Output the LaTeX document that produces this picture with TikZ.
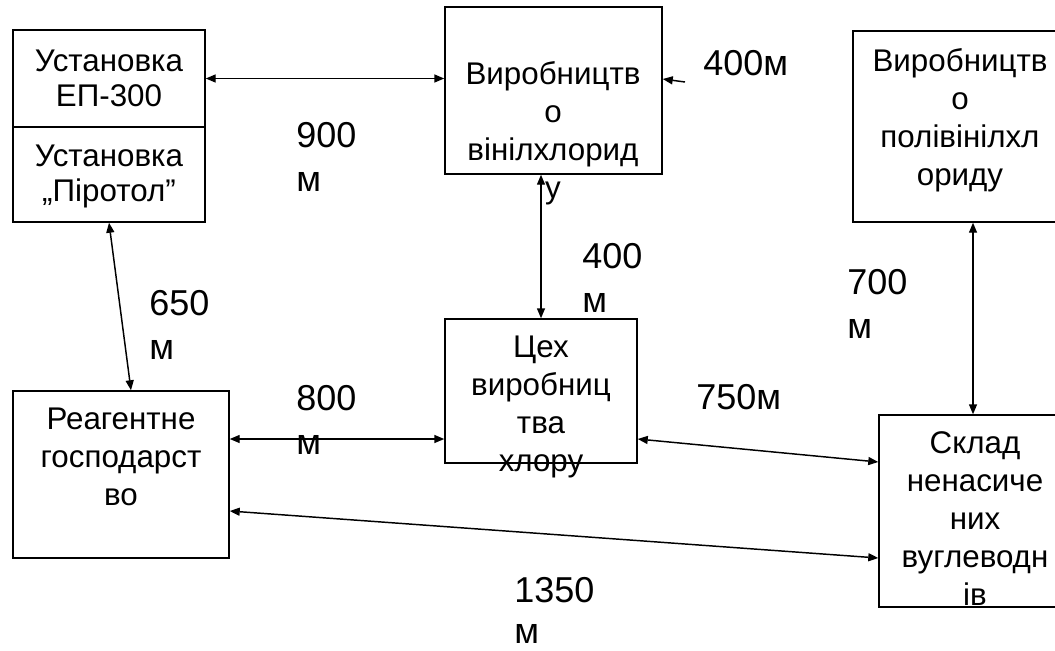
\documentclass[tikz,border=0pt]{standalone}
\usepackage{fontspec}
\setmainfont{Liberation Sans}
\usetikzlibrary{arrows.meta,fit}

\newcommand{\boxfont}{\fontsize{23.5}{28.5}\selectfont}
\newcommand{\boxfonttight}{\fontsize{23.5}{26.25}\selectfont}
\newcommand{\lblfont}{\fontsize{27}{33}\selectfont}

\tikzset{
  unit/.style={draw,line width=1.1pt,inner sep=0pt,rectangle},
  unittext/.style={anchor=north,align=center,inner sep=0pt,font=\boxfont},
  dist/.style={anchor=north west,align=left,inner sep=0pt,font=\lblfont},
  link/.style={<->,line width=1.1pt},
}

\begin{document}
\begin{tikzpicture}[x=0.75pt,y=-0.75pt,>={Triangle[length=7.5pt,width=6pt]}]
\useasboundingbox (0,0) rectangle (1055,650);
\fill[white] (0,0) rectangle (1055,650);
% boxes
\begin{scope}
\clip (0,0) rectangle (1055,650);
\node[unit,fit={(13,30) (205,127)}] (ep) {};
\node[unit,fit={(13,127) (205,222)}] (pir) {};
\node[unit,fit={(445,7) (662,174)}] (vinyl) {};
\node[unit,fit={(853,31) (1067,222)}] (pvc) {};
\node[unit,fit={(445,319) (637,463)}] (chlor) {};
\node[unit,fit={(13,391) (229,558)}] (reagent) {};
\node[unit,fit={(879,415) (1071,607)}] (sklad) {};
\end{scope}
% texts in boxes
\node[unittext,font=\boxfonttight] (eptext) at (109,50) {Установка\\ЕП-300};
\node[unittext,font=\boxfonttight] (pirtext) at (109,145) {Установка\\„Піротол”};
\node[unittext] (vinyltext) at (553,61) {Виробництв\\о\\вінілхлорид\\у};
\node[unittext] (pvctext) at (960,48) {Виробництв\\о\\полівінілхл\\ориду};
\node[unittext] (chlortext) at (541,336) {Цех\\виробниц\\тва\\хлору};
\node[unittext] (reagenttext) at (121,408) {Реагентне\\господарст\\во};
\node[unittext] (skladtext) at (975,431) {Склад\\ненасиче\\них\\вуглеводн\\ів};
% distances
\node[dist] (d900) at (296,122) {900\\м};
\node[dist] (d400a) at (703,50) {400м};
\node[dist] (d400b) at (582,243) {400\\м};
\node[dist] (d650) at (149,290) {650\\м};
\node[dist] (d700) at (847,269) {700\\м};
\node[dist] (d800) at (296,385) {800\\м};
\node[dist] (d750) at (696,384) {750м};
\node[dist,font=\fontsize{27}{31}\selectfont] (d1350) at (514,577) {1350\\м};
% connectors
\draw[link] (ep.east) -- (vinyl.west |- ep.east);
\coordinate (from400) at (685,82);
\draw[->,line width=1.1pt] (from400) -- (vinyl.east |- 0,79);
\draw[link] (pir.south) -- (reagent.north -| 131,0);
\draw[link] (vinyl.south -| chlor.north) -- (chlor.north);
\draw[link] (reagent.east |- 0,439) -- (chlor.west |- 0,439);
\draw[link] (chlor.east |- 0,439) -- (sklad.west |- 0,462);
\draw[link] (reagent.east |- 0,511) -- (sklad.west |- 0,558);
\draw[link] (pvc.south -| 973,0) -- (sklad.north -| 973,0);
\end{tikzpicture}
\end{document}
